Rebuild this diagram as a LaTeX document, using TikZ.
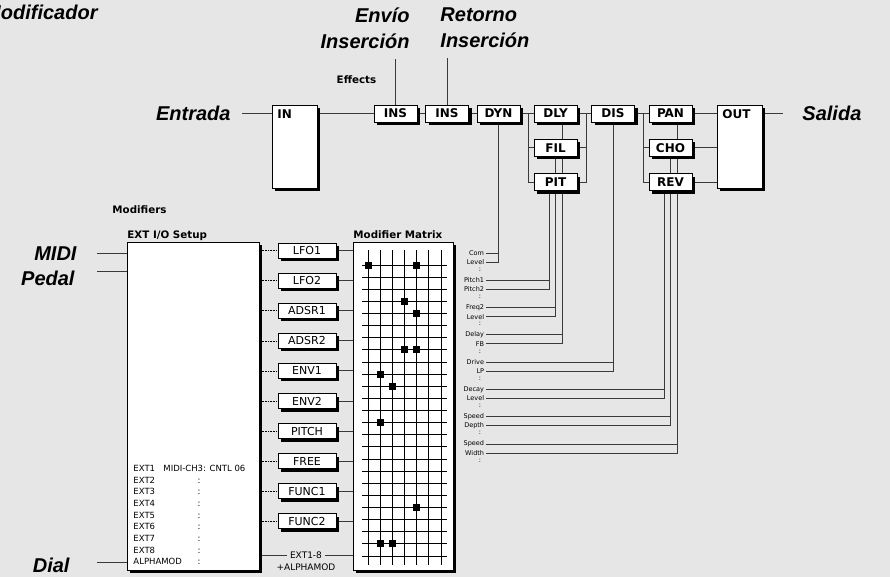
\documentclass[tikz,border=0pt]{standalone}
\usepackage{fontspec}
\setmainfont{DejaVu Sans}
\newfontfamily\callfont{Liberation Sans}
\usetikzlibrary{positioning, shadows, backgrounds}
\definecolor{cback}{HTML}{E6E6E6}
\definecolor{cwire}{HTML}{3A3A3A}
\tikzset{
  every picture/.style={line width=0.9pt},
  hardshadow/.style={drop shadow={shadow xshift=3pt, shadow yshift=-3pt, fill=black, opacity=1}},
  fxbox/.style={draw=black, fill=white, hardshadow, minimum width=43pt, minimum height=17pt, inner sep=0pt, font=\fontsize{12}{12}\selectfont\bfseries},
  modbox/.style={fxbox, minimum width=58pt, minimum height=15pt, font=\fontsize{11}{11}\selectfont},
  panel/.style={draw=black, fill=white, hardshadow, inner sep=0pt, anchor=north west},
  io/.style={font=\callfont\fontsize{20}{26}\selectfont\bfseries\itshape, inner sep=0pt},
  head/.style={font=\fontsize{10.3}{12}\selectfont\bfseries, inner sep=0pt},
  boxtag/.style={font=\fontsize{12}{12}\selectfont\bfseries, inner sep=0pt, anchor=north west},
  extrow/.style={font=\fontsize{8.5}{10}\selectfont, inner sep=0pt, anchor=base west},
  param/.style={font=\fontsize{6.5}{7}\selectfont, inner sep=1.5pt, anchor=east},
  wire/.style={draw=cwire, line width=0.9pt},
  dotwire/.style={draw=black, densely dotted, line width=0.6pt},
  mgrid/.style={draw=black, line width=0.8pt},
  knot/.style={fill=black, minimum size=7pt, inner sep=0pt},
}
\begin{document}
\begin{tikzpicture}[x=1pt, y=-1pt]
  \useasboundingbox (0,0) rectangle (890,577);
  \begin{scope}[on background layer]
    \fill[cback] (0,0) rectangle (890,577);
  \end{scope}
  % effects chain
  \node[io, anchor=base east] (modif) at (98,20) {Modificador};
  \node[io, anchor=east] (entrada) at (231,113.5) {Entrada};
  \node[panel, minimum width=45pt, minimum height=83pt] (in) at (272,105) {};
  \node[boxtag] (intag) at ([xshift=5pt, yshift=-4pt]in.north west) {IN};
  \node[fxbox] (ins1) at (395.5,113.5) {INS};
  \node[fxbox] (ins2) at (447,113.5) {INS};
  \node[fxbox] (dyn) at (498.5,113.5) {DYN};
  \node[fxbox] (dly) at (555.5,113.5) {DLY};
  \node[fxbox, below=16.5pt of dly] (fil) {FIL};
  \node[fxbox, below=16.5pt of fil] (pit) {PIT};
  \node[fxbox] (dis) at (613,113.5) {DIS};
  \node[fxbox] (pan) at (670.5,113.5) {PAN};
  \node[fxbox, below=16.5pt of pan] (cho) {CHO};
  \node[fxbox, below=16.5pt of cho] (rev) {REV};
  \node[panel, minimum width=45pt, minimum height=83pt] (out) at (717,105) {};
  \node[boxtag] (outtag) at ([xshift=5pt, yshift=-4pt]out.north west) {OUT};
  \node[io, anchor=west] (salida) at (802,113.5) {Salida};
  \node[io, anchor=north east, align=right] (envio) at (410,7) {Envío\\Inserción};
  \node[io, anchor=north west, align=left] (retorno) at (440,7) {Retorno\\Inserción};
  \node[head] (fxhead) at (356.5,80) {Effects};
  % modifiers
  \node[head, anchor=west] (modhead) at (112,210) {Modifiers};
  \node[panel, minimum width=132pt, minimum height=328pt] (ext) at (127,242) {};
  \node[head, anchor=base west] (exthead) at (127,238) {EXT I/O Setup};
  \node[panel, minimum width=100pt, minimum height=328pt] (mx) at (353,242) {};
  \node[head, anchor=base west] (mxhead) at (353,238) {Modifier Matrix};
  \node[io, anchor=base east] (midi) at (77,260) {MIDI};
  \node[io, anchor=base east] (pedal) at (75,285) {Pedal};
  \node[io, anchor=base east] (dial) at (70,572) {Dial};
  \coordinate (kmidi) at (97,253);
  \coordinate (kpedal) at (97,271);
  \coordinate (kdial) at (97,562);
  \foreach \row [count=\k from 0] in {EXT1, EXT2, EXT3, EXT4, EXT5, EXT6, EXT7, EXT8, ALPHAMOD}
    \node[extrow] (x\k) at (133, 471.5+11.66*\k) {\row};
  \node[extrow] (midich) at (163,471.5) {MIDI-CH3: CNTL 06};
  \foreach \k in {1,...,8}
    \node[extrow, anchor=base] (xd\k) at (199, 471.5+11.66*\k) {:};
  \foreach \lbl [count=\k from 0] in {LFO1, LFO2, ADSR1, ADSR2, ENV1, ENV2, PITCH, FREE, FUNC1, FUNC2}
    \node[modbox] (m\k) at (307, 250.5+30.1*\k) {\lbl};
  \node[font=\fontsize{9}{9}\selectfont, inner sep=3pt] (extall) at (306,555) {EXT1-8};
  \node[font=\fontsize{9}{9}\selectfont, inner sep=0pt] (alphall) at (306,567) {+ALPHAMOD};
  % matrix grid
  \foreach \j in {0,...,6}
    \draw[mgrid] (368+12.15*\j, 250) -- (368+12.15*\j, 565);
  \foreach \i in {0,...,24}
    \draw[mgrid] (362, 265+12.125*\i) -- (447, 265+12.125*\i);
  \foreach \j/\i in {0/0, 4/0, 3/3, 4/4, 3/7, 4/7, 1/9, 2/10, 1/13, 4/20, 1/23, 2/23}
    \node[knot] (kn\j-\i) at (368+12.15*\j, 265+12.125*\i) {};
  % parameters
  \foreach \a/\b [count=\k from 0] in {Com/Level, Pitch1/Pitch2, Freq2/Level, Delay/FB, Drive/LP, Decay/Level, Speed/Depth, Speed/Width} {
    \node[param] (pa\k) at (486, 253+27.3*\k) {\a};
    \node[param] (pb\k) at (486, 262+27.3*\k) {\b};
    \node[param, anchor=center] (pc\k) at (480, 269.5+27.3*\k) {:};
  }
  % wires
  \begin{scope}[on background layer]
    \draw[wire] ([xshift=11pt]entrada.east) -- (entrada.east -| in.west);
    \draw[wire] (in.east |- ins1) -- (ins1.west);
    \draw[wire] (ins1.east) -- (ins2.west);
    \draw[wire] (ins2.east) -- (dyn.west);
    \draw[wire] (dyn.east) -- (dly.west);
    \coordinate (dlyl) at (528,113.5);
    \draw[wire] (dlyl) |- (fil.west);
    \draw[wire] (dlyl) |- (pit.west);
    \draw[wire] (dly.east) -- (dis.west);
    \coordinate (dlyr) at (586,113.5);
    \draw[wire] (dlyr) |- (fil.east);
    \draw[wire] (dlyr) |- (pit.east);
    \draw[wire] (dis.east) -- (pan.west);
    \coordinate (panl) at (643,113.5);
    \draw[wire] (panl) |- (cho.west);
    \draw[wire] (panl) |- (rev.west);
    \draw[wire] (pan.east) -- (pan -| out.west);
    \draw[wire] (cho.east) -- (cho -| out.west);
    \draw[wire] (rev.east) -- (rev -| out.west);
    \draw[wire] (pan -| out.east) -- ([xshift=-19pt]salida.west);
    \draw[wire] (ins1.north) -- ([yshift=-10pt]ins1.north |- envio.south);
    \draw[wire] (ins2.north) -- ([yshift=-10pt]ins2.north |- retorno.south);
    \foreach \src/\dx [count=\k from 0] in {dyn/0, pit/-6.5, fil/0, dly/6.5, dis/0, rev/-6.5, cho/0, pan/6.5} {
      \draw[wire] ([xshift=\dx pt]\src.south) |- (pb\k.east);
      \draw[wire] (pa\k.east) -- ([xshift=\dx pt]\src.south |- pa\k.east);
    }
    \foreach \k in {0,...,9} {
      \draw[dotwire] (ext.east |- m\k) -- (m\k.west);
      \draw[wire] (m\k.east) -- (mx.west |- m\k);
    }
    \draw[wire] (ext.east |- extall) -- (extall.west);
    \draw[wire] (extall.east) -- (mx.west |- extall);
    \draw[wire] (kmidi) -- (kmidi -| ext.west);
    \draw[wire] (kpedal) -- (kpedal -| ext.west);
    \draw[wire] (kdial) -- (kdial -| ext.west);
  \end{scope}
\end{tikzpicture}
\end{document}
